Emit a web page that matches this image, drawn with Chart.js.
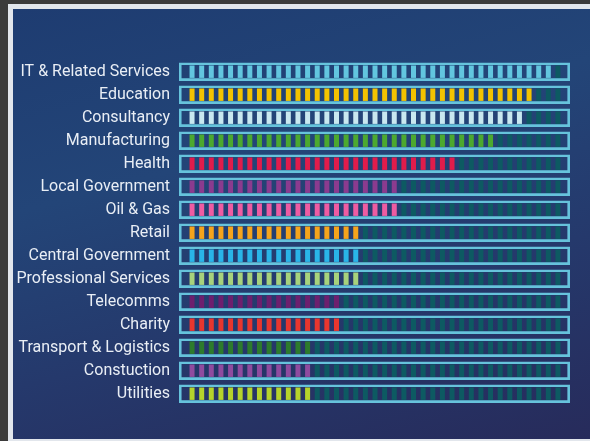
<!DOCTYPE html>
<html>
<head>
<meta charset="utf-8">
<script src="https://cdn.jsdelivr.net/npm/chart.js@4/dist/chart.umd.min.js"></script>
<style>
  html, body { margin: 0; padding: 0; width: 590px; height: 441px; overflow: hidden; background: #3b3b3b; }
  .frame { position: absolute; left: 8px; top: 4px; width: 582px; height: 437px; background: #e2e6ec; }
  .panel {
    position: absolute; left: 5px; top: 5px; width: 577px; height: 430px;
    background: linear-gradient(165deg, #1e3c71 0%, #234578 35%, #25396c 65%, #272b5b 100%);
  }
  canvas { display: block; }
</style>
</head>
<body>
<div class="frame">
  <div class="panel">
    <canvas id="chart" width="577" height="430"></canvas>
  </div>
</div>
<script>
// sectors, top to bottom
const sectors = [
  "IT & Related Services", "Education", "Consultancy", "Manufacturing", "Health",
  "Local Government", "Oil & Gas", "Retail", "Central Government", "Professional Services",
  "Telecomms", "Charity", "Transport & Logistics", "Constuction", "Utilities"
];
// lit blocks per sector (out of segmentCount)
const filled = [38, 36, 35, 32, 28, 22, 22, 18, 18, 18, 16, 16, 13, 13, 13];
const segmentCount = 39;
const sectorColors = [
  "#62c6df", "#f3c300", "#c8e8f0", "#4ca92f", "#e11c4b",
  "#8b3b8f", "#ee5ca2", "#f5a41c", "#29b5e8", "#a7d27c",
  "#6d1f6e", "#e8362e", "#2d7b2c", "#8f4b9f", "#b5d32b"
];
const emptyColor = "#0d5a62";
const trackColor = "#66c3dc";

const datasets = [];

// outline box behind each row
datasets.push({
  data: sectors.map(() => [-0.86, segmentCount + 0.75]),
  backgroundColor: "rgba(0,0,0,0)",
  borderColor: trackColor,
  borderWidth: 2.6,
  borderSkipped: false,
  barPercentage: 0.8,
  categoryPercentage: 1,
  grouped: false,
  clip: false,
});

// one dataset per block position
for (let k = 0; k < segmentCount; k++) {
  datasets.push({
    data: sectors.map(() => [k + 0.24, k + 0.76]),
    backgroundColor: sectors.map((s, i) => (k < filled[i] ? sectorColors[i] : emptyColor)),
    borderWidth: 0,
    barPercentage: 0.54,
    categoryPercentage: 1,
    grouped: false,
    clip: false,
  });
}

new Chart(document.getElementById("chart"), {
  type: "bar",
  data: { labels: sectors, datasets: datasets },
  options: {
    indexAxis: "y",
    responsive: false,
    animation: false,
    events: [],
    layout: { padding: { top: 51.2, bottom: 33.8, right: 17.6, left: 0 } },
    plugins: { legend: { display: false }, tooltip: { enabled: false } },
    scales: {
      x: { display: false, min: -1, max: 40 },
      y: {
        grid: { display: false, drawTicks: false },
        border: { display: false },
        ticks: {
          color: "#e9eef5",
          padding: 7.6,
          font: { family: "Roboto", size: 16 },
        },
        afterFit(scale) { scale.width = 164.6; },
      },
    },
  },
});
</script>
</body>
</html>
